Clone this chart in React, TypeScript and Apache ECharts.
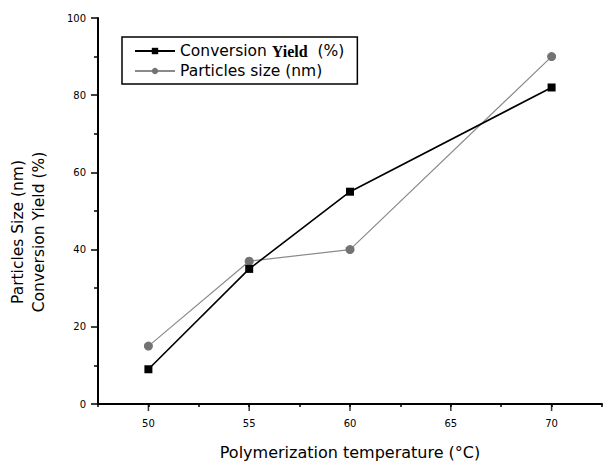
import React, { useEffect, useRef } from "react";
import * as echarts from "echarts";

const temperatures = [50, 55, 60, 70];
const conversionYield = [9, 35, 55, 82];
const particleSize = [15, 37, 40, 90];
const majorXTicks = [50, 55, 60, 65, 70];

const yieldName = "Conversion Yield (%)";
const sizeName = "Particles size (nm)";

export default function App() {
  const ref = useRef<HTMLDivElement>(null);
  useEffect(() => {
    if (!ref.current) return;
    const chart = echarts.init(ref.current, null, { renderer: "svg" });
    const font = "DejaVu Sans";
    chart.setOption({
      animation: false,
      backgroundColor: "#ffffff",
      grid: { left: 98, right: 1, top: 18, bottom: 57 },
      legend: {
        data: [yieldName, sizeName],
        orient: "vertical",
        left: 122,
        top: 37,
        borderColor: "#000",
        borderWidth: 1.5,
        padding: [6, 13, 5, 12],
        itemGap: 4,
        itemWidth: 40,
        itemHeight: 8,
        formatter: (name: string) =>
          name === yieldName ? "Conversion {b|Yield}  (%)" : name,
        textStyle: {
          fontFamily: font,
          fontSize: 15.5,
          color: "#000",
          rich: {
            b: { fontFamily: "Liberation Serif", fontWeight: "bold", fontSize: 16, color: "#000" },
          },
        },
      },
      xAxis: {
        type: "value",
        min: 47.5,
        max: 72.5,
        interval: 2.5,
        name: "Polymerization temperature (°C)",
        nameLocation: "middle",
        nameGap: 40,
        nameTextStyle: { fontFamily: font, fontSize: 16, color: "#000" },
        splitLine: { show: false },
        axisLine: { lineStyle: { color: "#000", width: 2 } },
        axisTick: { show: true, length: 3, lineStyle: { color: "#000", width: 1.5 } },
        axisLabel: {
          margin: 14,
          fontFamily: font,
          fontSize: 10,
          color: "#000",
          formatter: (v: number) => (v % 5 === 0 ? String(v) : ""),
        },
      },
      yAxis: {
        type: "value",
        min: 0,
        max: 100,
        interval: 20,
        splitLine: { show: false },
        axisLine: { show: true, lineStyle: { color: "#000", width: 2 } },
        axisTick: { show: true, length: 7, lineStyle: { color: "#000", width: 1.5 } },
        minorTick: { show: true, splitNumber: 2, length: 4, lineStyle: { color: "#000", width: 1.5 } },
        axisLabel: { margin: 12, fontFamily: font, fontSize: 10, color: "#000" },
      },
      graphic: [
        {
          type: "text",
          x: 28,
          y: 232,
          rotation: Math.PI / 2,
          style: {
            text: "Particles Size (nm)\nConversion Yield (%)",
            fontFamily: font,
            fontSize: 15.5,
            lineHeight: 21,
            fill: "#000",
            textAlign: "center",
            textVerticalAlign: "middle",
          },
        },
      ],
      series: [
        {
          name: sizeName,
          type: "line",
          data: temperatures.map((t, i) => [t, particleSize[i]]),
          symbol: "circle",
          symbolSize: 9,
          lineStyle: { color: "#8a8a8a", width: 1.2 },
          itemStyle: { color: "#737373" },
          z: 2,
        },
        {
          name: yieldName,
          type: "line",
          data: temperatures.map((t, i) => [t, conversionYield[i]]),
          symbol: "rect",
          symbolSize: 8,
          lineStyle: { color: "#000", width: 1.6 },
          itemStyle: { color: "#000" },
          z: 3,
        },
        {
          name: "major ticks",
          type: "scatter",
          data: majorXTicks.map((t) => [t, 0]),
          symbol: "rect",
          symbolSize: [1.5, 7],
          symbolOffset: [0, 3.5],
          itemStyle: { color: "#000" },
          silent: true,
          clip: false,
          z: 1,
        },
      ],
    });
    return () => chart.dispose();
  }, []);
  return (
    <div
      ref={ref}
      style={{ position: "fixed", left: 0, top: 0, width: 605, height: 465 }}
    />
  );
}
